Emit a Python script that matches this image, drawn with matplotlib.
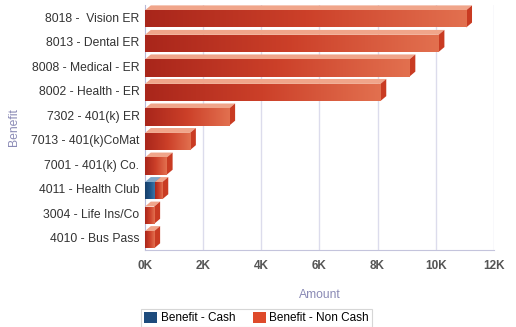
import numpy as np
import matplotlib
matplotlib.use('Agg')
import matplotlib.pyplot as plt
from matplotlib.colors import LinearSegmentedColormap
from matplotlib.patches import Polygon, Rectangle, Patch

plt.rcParams['font.family'] = ['Liberation Sans', 'DejaVu Sans']

# ── Data (top to bottom) ──────────────────────────────────────────────────────
BENEFITS = ['8018 -  Vision ER', '8013 - Dental ER', '8008 - Medical - ER',
            '8002 - Health - ER', '7302 - 401(k) ER', '7013 - 401(k)CoMat',
            '7001 - 401(k) Co.', '4011 - Health Club', '3004 - Life Ins/Co',
            '4010 - Bus Pass']
CASH = [0, 0, 0, 0, 0, 0, 0, 340, 0, 0]
NON_CASH = [11050, 10100, 9100, 8100, 2900, 1550, 750, 260, 320, 320]
X_TICKS = [0, 2000, 4000, 6000, 8000, 10000, 12000]
X_TICKLABELS = ['0K', '2K', '4K', '6K', '8K', '10K', '12K']

RED_CMAP = LinearSegmentedColormap.from_list('red', ['#a9261b', '#cc4029', '#e2704f'])
BLUE_CMAP = LinearSegmentedColormap.from_list('blue', ['#163f6a', '#1f5386', '#3a76a8'])
RED_TOP, RED_SIDE = '#f0a58a', '#c93b22'
BLUE_TOP, BLUE_SIDE = '#7fa6c8', '#1b4573'

DX, DY = 200, 0.2      # 3D depth offset (data units)
BAR_H = 0.7


def draw_bar(ax, left, width, y, cmap, top_c, side_c):
    if width <= 0:
        return
    y0, y1 = y - BAR_H / 2 + 0.07, y + BAR_H / 2 + 0.07
    # top face
    ax.add_patch(Polygon([(left, y0), (left + DX, y0 - DY), (left + width + DX, y0 - DY),
                          (left + width, y0)], closed=True, fc=top_c, ec='none', zorder=3))
    # side face
    ax.add_patch(Polygon([(left + width, y0), (left + width + DX, y0 - DY),
                          (left + width + DX, y1 - DY), (left + width, y1)],
                         closed=True, fc=side_c, ec='none', zorder=3))
    # front face with horizontal gradient
    rect = Rectangle((left, y0), width, y1 - y0, fc='none', ec='none', zorder=4)
    ax.add_patch(rect)
    grad = np.linspace(0, 1, 128).reshape(1, -1)
    im = ax.imshow(grad, cmap=cmap, aspect='auto', extent=(left, left + width, y1, y0),
                   zorder=4, interpolation='bilinear')
    im.set_clip_path(rect)


fig = plt.figure(figsize=(5.16, 3.27), dpi=100)
ax = fig.add_axes([0.281, 0.235, 0.676, 0.75])

ys = np.arange(len(BENEFITS))
for y, c, n in zip(ys, CASH, NON_CASH):
    draw_bar(ax, 0, c, y, BLUE_CMAP, BLUE_TOP, BLUE_SIDE)
    draw_bar(ax, c, n, y, RED_CMAP, RED_TOP, RED_SIDE)

ax.set_xlim(0, 12000)
ax.set_ylim(len(BENEFITS) - 0.5, -0.5)
ax.set_xticks(X_TICKS)
ax.set_xticklabels(X_TICKLABELS, fontsize=8.5, color='#555555', fontweight='bold')
ax.set_yticks(ys)
ax.set_yticklabels(BENEFITS, fontsize=8.7, color='#333333')
ax.tick_params(axis='y', length=0, pad=4)
ax.tick_params(axis='x', length=0, pad=7)
for x in X_TICKS[1:]:
    ax.axvline(x, color='#dcdcec', lw=1, zorder=1)
for side in ['top', 'right']:
    ax.spines[side].set_visible(False)
ax.spines['left'].set_color('#b8b8d8')
ax.spines['bottom'].set_color('#c4c4dc')

ax.set_xlabel('Amount', fontsize=8.7, color='#8a8ab5', labelpad=12)
ax.set_ylabel('Benefit', fontsize=8.7, color='#8a8ab5', labelpad=8)

handles = [Patch(fc='#1d4b7c', ec='none'), Patch(fc='#de4a2a', ec='none')]
leg = fig.legend(handles, ['Benefit - Cash', 'Benefit - Non Cash'], loc='center',
                 bbox_to_anchor=(0.497, 0.028), ncol=2, fontsize=8.5, frameon=True,
                 fancybox=False, handlelength=1.1, handleheight=1.1, handletextpad=0.3,
                 columnspacing=1.5, borderpad=0.25)
leg.get_frame().set_edgecolor('#cccccc')
leg.get_frame().set_linewidth(0.8)

fig.savefig('out.png', dpi=100)
